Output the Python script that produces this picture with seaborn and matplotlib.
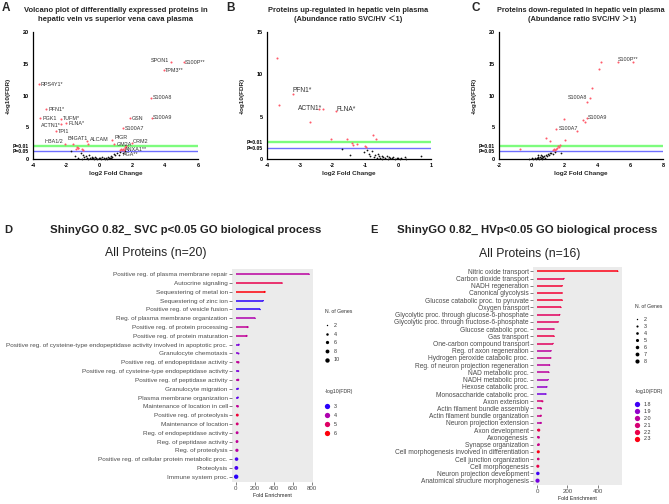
import numpy as np
import matplotlib
matplotlib.use('Agg')
import matplotlib.pyplot as plt
import seaborn as sns
from matplotlib.lines import Line2D
from matplotlib.colors import ListedColormap, Normalize

sns.set_theme(style='white')
plt.rcParams['font.family'] = ['Liberation Sans', 'DejaVu Sans']

# ---------------- volcano data ----------------
# panel A: all proteins
a_red_x = [-3.64, -3.19, -3.56, -2.30, -2.28, -1.98, -2.62, -2.04, -0.68, -0.72, 0.79, 0.93, 1.98,
           1.52, 1.38, 1.45, 1.88, 3.21, 3.17, 3.96, 4.35, 5.13,
           -1.35, -1.30, -1.55, -1.42, -1.26, -1.00, -0.98, 1.35, 1.45, 1.60, 1.65, 1.30, 1.55]
a_red_y = [11.8, 7.8, 6.4, 6.3, 5.5, 5.6, 4.4, 2.3, 2.3, 2.85, 3.0, 2.36, 2.5,
           1.45, 1.35, 4.83, 6.4, 6.5, 9.65, 14.0, 15.2, 15.2,
           1.94, 1.7, 2.35, 1.65, 1.75, 1.5, 1.42, 1.5, 1.6, 1.85, 2.0, 1.4, 1.7]
a_red_names = ['RPS4Y1*', 'PFN1*', 'PGK1', 'TUFM*', 'ACTN1*', 'FLNA*', 'TPI1', 'HBA1/2', 'B4GAT1', 'ALCAM',
               'PIGR', 'GM2A', 'ORM2', 'ANXA1**', 'AGA**', 'S100A7', 'GSN', 'S100A9', 'S100A8', 'TPM3**',
               'SPON1', 'S100P**']
a_black_x = [-1.70, -1.45, -1.10, -0.95, -0.90, -0.80, -0.70, -0.60, -0.55, -0.45, -0.40, -0.30, -0.25,
             -0.20, -0.10, 0.00, 0.05, 0.15, 0.20, 0.30, 0.40, 0.50, 0.55, 0.60, 0.70, 0.75, 0.80, 0.90,
             1.00, 1.10, 1.20, 1.30, 1.45, -1.25, -1.00, 1.60, -0.35, 0.35, 0.65, -0.65]
a_black_y = [1.2, 0.5, 0.9, 0.7, 0.3, 0.5, 0.2, 0.6, 0.1, 0.35, 0.15, 0.05, 0.3,
             0.1, 0.05, 0.2, 0.1, 0.05, 0.3, 0.1, 0.2, 0.05, 0.35, 0.15, 0.1, 0.5, 0.25, 0.8,
             0.6, 1.0, 0.7, 1.1, 0.9, 0.15, 0.05, 1.2, 0.1, 0.05, 0.2, 0.05]

# panel B: up-regulated in hepatic vein
b_red_x = [-2.28, -3.22, -1.90, -3.70, -3.62, -2.42, -2.68, -2.06, -1.56, -1.41, -1.38, -1.26,
           -0.78, -0.67, -1.00, -0.98]
b_red_y = [5.9, 7.7, 5.7, 11.9, 6.4, 5.9, 4.4, 2.4, 2.36, 1.9, 1.65, 1.75, 2.8, 2.35, 1.5, 1.42]
b_red_names = ['ACTN1*', 'PFN1*', 'FLNA*']
b_black_x = [-1.70, -1.46, -1.05, -0.95, -0.90, -0.85, -0.80, -0.75, -0.70, -0.65, -0.60, -0.55,
             -0.50, -0.45, -0.40, -0.35, -0.30, -0.25, -0.20, -0.15, -0.10, -0.05, 0.00, 0.05,
             0.10, 0.20, 0.25, 0.68, -0.62, -0.48, -0.28]
b_black_y = [1.2, 0.5, 0.8, 1.1, 0.6, 0.3, 0.9, 0.2, 0.5, 0.1, 0.35, 0.15,
             0.05, 0.25, 0.1, 0.3, 0.05, 0.15, 0.1, 0.2, 0.05, 0.1, 0.15, 0.05,
             0.1, 0.2, 0.05, 0.3, 0.6, 0.4, 0.25]

# panel C: down-regulated in hepatic vein
c_red_x = [5.24, 3.55, 3.35, 1.50, 4.20, 4.08, 6.20, 3.67, 3.35, 1.95, 3.10, 3.25, 2.77, 0.85,
           1.10, 2.00, 1.70, 1.60, -0.75, 1.35, 1.45, 1.55, 1.30, 1.40, 1.65]
c_red_y = [15.2, 9.65, 6.4, 4.7, 15.2, 14.1, 15.2, 11.2, 8.9, 6.3, 6.2, 5.9, 4.4, 3.3,
           2.85, 3.0, 2.2, 2.0, 1.5, 1.5, 1.6, 1.8, 1.35, 1.4, 1.9]
c_red_names = ['S100P**', 'S100A8', 'S100A9', 'S100A7']
c_black_x = [-0.15, 0.00, 0.10, 0.20, 0.25, 0.30, 0.35, 0.40, 0.45, 0.50, 0.55, 0.60, 0.65, 0.70,
             0.75, 0.80, 0.85, 0.90, 1.00, 1.05, 1.10, 1.20, 1.30, 1.40, 1.80, 0.35, 0.55, 0.62]
c_black_y = [0.05, 0.1, 0.05, 0.15, 0.05, 0.2, 0.1, 0.3, 0.05, 0.25, 0.15, 0.4, 0.1, 0.3,
             0.5, 0.2, 0.6, 0.4, 0.8, 0.6, 0.9, 1.0, 0.8, 1.1, 1.0, 0.6, 0.7, 0.05]

# ---------------- GO enrichment data ----------------
d_terms = ['Positive reg. of plasma membrane repair', 'Autocrine signaling', 'Sequestering of metal ion',
           'Sequestering of zinc ion', 'Positive reg. of vesicle fusion', 'Reg. of plasma membrane organization',
           'Positive reg. of protein processing', 'Positive reg. of protein maturation',
           'Positive reg. of cysteine-type endopeptidase activity involved in apoptotic proc.',
           'Granulocyte chemotaxis', 'Positive reg. of endopeptidase activity',
           'Positive reg. of cysteine-type endopeptidase activity', 'Positive reg. of peptidase activity',
           'Granulocyte migration', 'Plasma membrane organization', 'Maintenance of location in cell',
           'Positive reg. of proteolysis', 'Maintenance of location', 'Reg. of endopeptidase activity',
           'Reg. of peptidase activity', 'Reg. of proteolysis', 'Positive reg. of cellular protein metabolic proc.',
           'Proteolysis', 'Immune system proc.']
d_fold = [775, 490, 305, 290, 257, 205, 125, 114, 31, 28, 26, 26, 24, 23, 22, 20, 16, 15, 14, 13, 12, 8, 6, 4]
d_fdr = [4.2, 5.3, 6.0, 3.0, 3.0, 4.0, 4.3, 4.3, 3.4, 3.5, 4.3, 3.4, 4.2, 3.2, 3.2, 4.3, 5.6, 4.8,
         4.3, 4.3, 4.2, 3.1, 3.1, 3.0]
d_genes = [2, 2, 3, 2, 2, 2, 3, 3, 3, 3, 4, 3, 4, 3, 3, 4, 5, 5, 5, 5, 6, 7, 8, 10]
d_size_levels = [2, 4, 6, 8, 10]
d_fdr_levels = [3, 4, 5, 6]

e_terms = ['Nitric oxide transport', 'Carbon dioxide transport', 'NADH regeneration', 'Canonical glycolysis',
           'Glucose catabolic proc. to pyruvate', 'Oxygen transport',
           'Glycolytic proc. through glucose-6-phosphate', 'Glycolytic proc. through fructose-6-phosphate',
           'Glucose catabolic proc.', 'Gas transport', 'One-carbon compound transport',
           'Reg. of axon regeneration', 'Hydrogen peroxide catabolic proc.',
           'Reg. of neuron projection regeneration', 'NAD metabolic proc.', 'NADH metabolic proc.',
           'Hexose catabolic proc.', 'Monosaccharide catabolic proc.', 'Axon extension',
           'Actin filament bundle assembly', 'Actin filament bundle organization', 'Neuron projection extension',
           'Axon development', 'Axonogenesis', 'Synapse organization',
           'Cell morphogenesis involved in differentiation', 'Cell junction organization', 'Cell morphogenesis',
           'Neuron projection development', 'Anatomical structure morphogenesis']
e_fold = [534, 178, 167, 167, 167, 158, 150, 141, 113, 113, 106, 93, 91, 83, 78, 74, 65, 59,
          35, 26, 25, 25, 11, 10, 10, 8, 8, 5, 5, 3]
e_fdr = [2.3, 2.2, 2.25, 2.25, 2.25, 2.2, 2.15, 2.15, 2.1, 2.2, 2.15, 2.0, 2.05, 2.0, 2.0, 1.95,
         1.9, 1.85, 2.1, 2.05, 2.05, 2.0, 2.2, 2.05, 2.05, 2.3, 2.1, 2.2, 1.8, 1.85]
e_genes = [2, 2, 2, 2, 2, 2, 2, 2, 2, 2, 2, 2, 2, 2, 2, 2, 2, 2, 3, 3, 3, 3, 5, 4, 4, 5, 4, 5, 6, 8]
e_size_levels = [2, 3, 4, 5, 6, 7, 8]
e_fdr_levels = [1.8, 1.9, 2.0, 2.1, 2.2, 2.3]


# ggplot-like blue->red gradient (interpolated in Lab space)
def lab_gradient(n=256):
    t = np.linspace(0, 1, n)
    L = 32.30 + t * (53.24 - 32.30)
    a = 79.19 + t * (80.09 - 79.19)
    b = -107.86 + t * (67.20 + 107.86)
    fy = (L + 16) / 116
    fx = fy + a / 500
    fz = fy - b / 200

    def finv(v):
        return np.where(v > 6 / 29, v ** 3, 3 * (6 / 29) ** 2 * (v - 4 / 29))
    xyz = np.array([0.95047 * finv(fx), finv(fy), 1.08883 * finv(fz)])
    m = np.array([[3.2406, -1.5372, -0.4986], [-0.9689, 1.8758, 0.0415], [0.0557, -0.2040, 1.0570]])
    lin = m @ xyz
    rgb = np.where(lin > 0.0031308, 1.055 * np.abs(lin) ** (1 / 2.4) - 0.055, 12.92 * lin)
    return ListedColormap(np.clip(rgb, 0, 1).T)


cmap = lab_gradient()

W, H = 669, 504
fig = plt.figure(figsize=(W / 100, H / 100), dpi=100)


def fx(px):
    return px / W


def fy(py):
    return 1 - py / H


def volcano(rect, rx, ry, bx, by, names, label_layout, lab_fs, xlim, xticks, ylim, yticks):
    ax = fig.add_axes(rect)
    sns.scatterplot(x=bx, y=by, color='#111111', s=1.6, linewidth=0, ax=ax, clip_on=False, zorder=4)
    sns.scatterplot(x=rx, y=ry, color='#ff5a6a', s=2.2, linewidth=0, ax=ax, clip_on=False, zorder=5)
    ax.axhline(2, color='#7dfc7d', lw=1.7, zorder=2)
    ax.axhline(1.3, color='#6f6fff', lw=1.0, zorder=2)
    for i, name in enumerate(names):
        dx, dy, ha = label_layout[name]
        ax.annotate(name, (rx[i], ry[i]), xytext=(dx * 0.72, dy * 0.72), textcoords='offset points',
                    ha=ha, va='center', fontsize=lab_fs, color='#333333', zorder=6)
    ax.set_xlim(*xlim)
    ax.set_ylim(*ylim)
    ax.set_xticks(xticks, [str(v) for v in xticks])
    ticks = sorted(yticks + [1.3, 2])
    labs = ['P=0.05' if v == 1.3 else 'P=0.01' if v == 2 else str(v) for v in ticks]
    ax.set_yticks(ticks, labs)
    for s in ['top', 'right']:
        ax.spines[s].set_visible(False)
    for s in ['left', 'bottom']:
        ax.spines[s].set_color('black')
        ax.spines[s].set_linewidth(0.9)
    ax.tick_params(direction='out', length=2.2, width=0.9, colors='black', labelsize=4.0, pad=1)
    for t in ax.get_xticklabels() + ax.get_yticklabels():
        t.set_fontweight('bold')
        if t.get_text().startswith('P='):
            t.set_fontsize(3.6)
    ax.set_xlabel('log2 Fold Change', fontsize=4.6, fontweight='bold', labelpad=1.5)
    ax.set_ylabel('-log10(FDR)', fontsize=4.6, fontweight='bold', labelpad=1.5)
    ax.set_facecolor('white')
    return ax


a_layout = {'RPS4Y1*': (2, 0, 'left'), 'PFN1*': (2, 0, 'left'), 'PGK1': (2, 0, 'left'),
            'TUFM*': (2, 0, 'left'), 'ACTN1*': (-1, -1, 'right'), 'FLNA*': (2, 0, 'left'),
            'TPI1': (2, 0, 'left'), 'HBA1/2': (-2, 3, 'right'), 'B4GAT1': (0, 6, 'right'),
            'ALCAM': (3, 1, 'left'), 'PIGR': (2, 2, 'left'), 'GM2A': (2, 0, 'left'),
            'ORM2': (1, 2, 'left'), 'ANXA1**': (1, 0, 'left'), 'AGA**': (1.5, -4, 'left'),
            'S100A7': (2, 0, 'left'), 'GSN': (2, 0, 'left'), 'S100A9': (1, 0, 'left'),
            'S100A8': (1.5, 0, 'left'), 'TPM3**': (1, 0, 'left'), 'SPON1': (-1.5, 1.5, 'right'),
            'S100P**': (1, 0, 'left')}
b_layout = {'ACTN1*': (-1, 0.5, 'right'), 'PFN1*': (-0.5, 3.5, 'left'), 'FLNA*': (1, 1.5, 'left')}
c_layout = {'S100P**': (0.5, 3, 'left'), 'S100A8': (-2.5, 0, 'right'), 'S100A9': (1.5, 0.5, 'left'),
            'S100A7': (2, 0.5, 'left')}

volcano([fx(33), fy(159), fx(165), 127 / H], a_red_x, a_red_y, a_black_x, a_black_y, a_red_names,
        a_layout, 3.9, (-4, 6), [-4, -2, 0, 2, 4, 6], (0, 20), [0, 5, 10, 15, 20])
volcano([fx(267), fy(159), fx(164), 127 / H], b_red_x, b_red_y, b_black_x, b_black_y, b_red_names,
        b_layout, 4.8, (-4, 1), [-4, -3, -2, -1, 0, 1], (0, 15), [0, 5, 10, 15])
volcano([fx(499), fy(159), fx(164), 127 / H], c_red_x, c_red_y, c_black_x, c_black_y, c_red_names,
        c_layout, 3.9, (-2, 8), [-2, 0, 2, 4, 6, 8], (0, 20), [0, 5, 10, 15, 20])

tfam = ['Liberation Sans', 'Noto Sans CJK JP', 'DejaVu Sans']
for x, letter in [(2, 'A'), (226, 'B'), (472, 'C')]:
    fig.text(fx(x), fy(2), letter, fontsize=8.5, fontweight='bold', va='top', ha='left')
fig.text(fx(116), fy(10), 'Volcano plot of differentially expressed proteins in', fontsize=5.5,
         fontweight='bold', ha='center', va='center')
fig.text(fx(116), fy(19.5), 'hepatic vein vs superior vena cava plasma', fontsize=5.5,
         fontweight='bold', ha='center', va='center')
fig.text(fx(348), fy(10), 'Proteins up-regulated in hepatic vein plasma', fontsize=5.4,
         fontweight='bold', ha='center', va='center', family=tfam)
fig.text(fx(348), fy(19.5), '(Abundance ratio SVC/HV \uff1c1)', fontsize=5.4,
         fontweight='bold', ha='center', va='center', family=tfam)
fig.text(fx(581), fy(10), 'Proteins down-regulated in hepatic vein plasma', fontsize=5.3,
         fontweight='bold', ha='center', va='center', family=tfam)
fig.text(fx(582), fy(19.5), '(Abundance ratio SVC/HV \uff1e1)', fontsize=5.4,
         fontweight='bold', ha='center', va='center', family=tfam)

narrow = ['Liberation Sans Narrow', 'Liberation Sans', 'DejaVu Sans']


def lollipop(rect, terms, fold, fdr, genes, fdr_lim, gene_lim, sizes, xlim, xticks, lab_fs):
    ax = fig.add_axes(rect)
    norm = Normalize(*fdr_lim)
    n = len(terms)
    ypos = np.arange(n)[::-1]
    ax.hlines(ypos, 0, fold, colors=[cmap(norm(v)) for v in fdr], lw=1.1, zorder=2)
    sns.scatterplot(x=fold, y=ypos, hue=fdr, palette=cmap, hue_norm=norm, size=genes, sizes=sizes,
                    size_norm=gene_lim, legend=False, linewidth=0, ax=ax, zorder=3)
    ax.set_facecolor('#EBEBEB')
    ax.grid(False)
    for s in ax.spines.values():
        s.set_visible(False)
    ax.set_xlim(*xlim)
    ax.set_ylim(-0.6, n - 0.4)
    ax.set_yticks(ypos, terms)
    ax.set_xticks(xticks, [str(v) for v in xticks])
    ax.tick_params(axis='both', direction='out', length=2, width=0.5, color='#4D4D4D', pad=1.0,
                   labelcolor='#4D4D4D', left=True, bottom=True)
    for t in ax.get_yticklabels():
        t.set_family(narrow)
        t.set_fontsize(lab_fs)
    for t in ax.get_xticklabels():
        t.set_family(narrow)
        t.set_fontsize(4.4)
    ax.set_xlabel('Fold Enrichment', fontsize=3.8, family=narrow, color='#222222', labelpad=1.5)
    ax.set_ylabel('')
    return ax, norm


def legends(ax, norm, size_levels, gene_lim, sizes, fdr_levels, fdr_labels, x0, ysize, ycol, sp_size, sp_col):
    def area(v):
        return sizes[0] + (v - gene_lim[0]) / (gene_lim[1] - gene_lim[0]) * (sizes[1] - sizes[0])
    prop = {'family': ['Liberation Sans', 'DejaVu Sans'], 'size': 3.9}
    hs = [Line2D([], [], ls='', marker='o', color='black', markeredgewidth=0,
                 markersize=np.sqrt(area(v))) for v in size_levels]
    leg1 = ax.legend(hs, [str(v) for v in size_levels], title='N. of Genes\n', loc='upper left',
                     bbox_to_anchor=(fx(x0), fy(ysize)), bbox_transform=fig.transFigure, frameon=False,
                     title_fontsize=3.7, handlelength=0.8, handletextpad=0.8,
                     labelspacing=sp_size, borderpad=0, borderaxespad=0, alignment='left', prop=prop)
    leg1.get_title().set_family(narrow)
    ax.add_artist(leg1)
    hc = [Line2D([], [], ls='', marker='o', color=cmap(norm(v)), markeredgewidth=0, markersize=3.8)
          for v in fdr_levels]
    leg2 = ax.legend(hc, fdr_labels, title='-log10(FDR)\n', loc='upper left',
                     bbox_to_anchor=(fx(x0), fy(ycol)), bbox_transform=fig.transFigure, frameon=False,
                     title_fontsize=3.7, handlelength=0.8, handletextpad=0.8,
                     labelspacing=sp_col, borderpad=0, borderaxespad=0, alignment='left', prop=prop)
    leg2.get_title().set_family(narrow)
    for lg in (leg1, leg2):
        for t in lg.get_texts():
            t.set_color('#333333')
        lg.get_title().set_color('#333333')


d_sizes = (1.0, 10.0)
ax_d, norm_d = lollipop([fx(232), fy(482), fx(81), 213 / H], d_terms, d_fold, d_fdr, d_genes,
                        (2.95, 6.05), (2, 10), d_sizes, (-40, 815), [0, 200, 400, 600, 800], 4.55)
legends(ax_d, norm_d, d_size_levels, (2, 10), d_sizes, d_fdr_levels, [str(v) for v in d_fdr_levels],
        325, 309, 389, 0.65, 0.75)

e_sizes = (1.0, 9.0)
ax_e, norm_e = lollipop([fx(533), fy(485), fx(89), 218 / H], e_terms, e_fold, e_fdr, e_genes,
                        (1.78, 2.32), (2, 8), e_sizes, (-27, 562), [0, 200, 400], 4.8)
legends(ax_e, norm_e, e_size_levels, (2, 8), e_sizes, e_fdr_levels, [f'{v:.1f}' for v in e_fdr_levels],
        635, 304, 389, 0.38, 0.36)

fig.text(fx(4), fy(230), 'D', fontsize=8, fontweight='bold', va='center', ha='left')
fig.text(fx(186), fy(230), 'ShinyGO 0.82_ SVC p<0.05 GO biological process', fontsize=8.2,
         fontweight='bold', va='center', ha='center', color='#222222')
fig.text(fx(156), fy(253), 'All Proteins (n=20)', fontsize=8.8, va='center', ha='center', color='#222222')
fig.text(fx(370), fy(230), 'E', fontsize=8, fontweight='bold', va='center', ha='left')
fig.text(fx(527), fy(230), 'ShinyGO 0.82_ HVp<0.05 GO biological process', fontsize=8.2,
         fontweight='bold', va='center', ha='center', color='#222222')
fig.text(fx(530), fy(254), 'All Proteins (n=16)', fontsize=8.8, va='center', ha='center', color='#222222')

fig.savefig('out.png', dpi=100, facecolor='white')
